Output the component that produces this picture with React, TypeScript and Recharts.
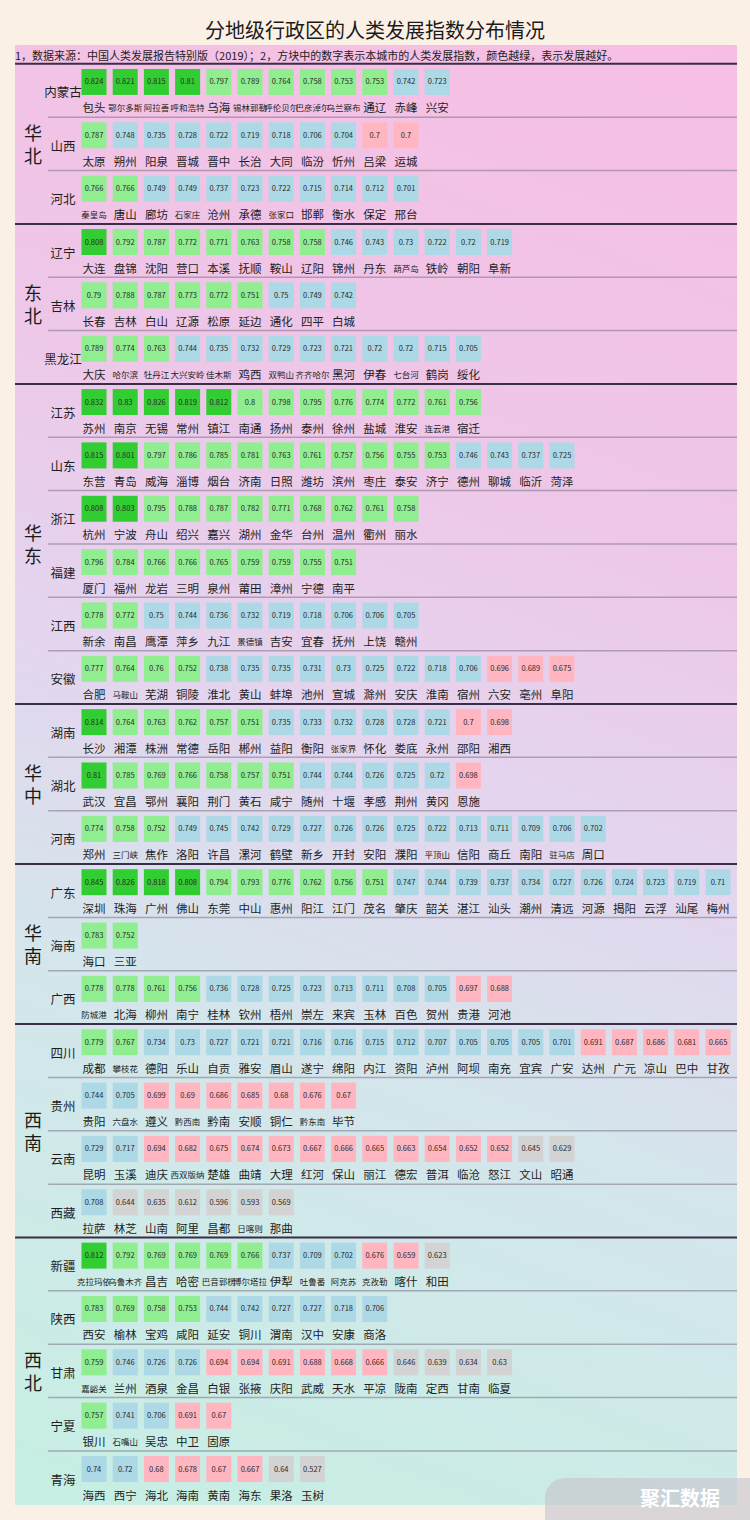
import React from 'react';
import { ScatterChart, Scatter, XAxis, YAxis, ReferenceLine } from 'recharts';

const regionNames = ['华北', '东北', '华东', '华中', '华南', '西南', '西北'];
const regionRowCounts = [3, 3, 6, 3, 3, 4, 5];

const provinceNames = [
  '内蒙古', '山西', '河北', '辽宁', '吉林', '黑龙江', '江苏', '山东', '浙江', '福建', '江西', '安徽',
  '湖南', '湖北', '河南', '广东', '海南', '广西', '四川', '贵州', '云南', '西藏', '新疆', '陕西',
  '甘肃', '宁夏', '青海',
];

const cityNames: string[][] = [
  ['包头', '鄂尔多斯', '阿拉善', '呼和浩特', '乌海', '锡林郭勒', '呼伦贝尔', '巴彦淖尔', '乌兰察布', '通辽', '赤峰', '兴安'],
  ['太原', '朔州', '阳泉', '晋城', '晋中', '长治', '大同', '临汾', '忻州', '吕梁', '运城'],
  ['秦皇岛', '唐山', '廊坊', '石家庄', '沧州', '承德', '张家口', '邯郸', '衡水', '保定', '邢台'],
  ['大连', '盘锦', '沈阳', '营口', '本溪', '抚顺', '鞍山', '辽阳', '锦州', '丹东', '葫芦岛', '铁岭', '朝阳', '阜新'],
  ['长春', '吉林', '白山', '辽源', '松原', '延边', '通化', '四平', '白城'],
  ['大庆', '哈尔滨', '牡丹江', '大兴安岭', '佳木斯', '鸡西', '双鸭山', '齐齐哈尔', '黑河', '伊春', '七台河', '鹤岗', '绥化'],
  ['苏州', '南京', '无锡', '常州', '镇江', '南通', '扬州', '泰州', '徐州', '盐城', '淮安', '连云港', '宿迁'],
  ['东营', '青岛', '威海', '淄博', '烟台', '济南', '日照', '潍坊', '滨州', '枣庄', '泰安', '济宁', '德州', '聊城', '临沂', '菏泽'],
  ['杭州', '宁波', '舟山', '绍兴', '嘉兴', '湖州', '金华', '台州', '温州', '衢州', '丽水'],
  ['厦门', '福州', '龙岩', '三明', '泉州', '莆田', '漳州', '宁德', '南平'],
  ['新余', '南昌', '鹰潭', '萍乡', '九江', '景德镇', '吉安', '宜春', '抚州', '上饶', '赣州'],
  ['合肥', '马鞍山', '芜湖', '铜陵', '淮北', '黄山', '蚌埠', '池州', '宣城', '滁州', '安庆', '淮南', '宿州', '六安', '亳州', '阜阳'],
  ['长沙', '湘潭', '株洲', '常德', '岳阳', '郴州', '益阳', '衡阳', '张家界', '怀化', '娄底', '永州', '邵阳', '湘西'],
  ['武汉', '宜昌', '鄂州', '襄阳', '荆门', '黄石', '咸宁', '随州', '十堰', '孝感', '荆州', '黄冈', '恩施'],
  ['郑州', '三门峡', '焦作', '洛阳', '许昌', '漯河', '鹤壁', '新乡', '开封', '安阳', '濮阳', '平顶山', '信阳', '商丘', '南阳', '驻马店', '周口'],
  ['深圳', '珠海', '广州', '佛山', '东莞', '中山', '惠州', '阳江', '江门', '茂名', '肇庆', '韶关', '湛江', '汕头', '潮州', '清远', '河源', '揭阳', '云浮', '汕尾', '梅州'],
  ['海口', '三亚'],
  ['防城港', '北海', '柳州', '南宁', '桂林', '钦州', '梧州', '崇左', '来宾', '玉林', '百色', '贺州', '贵港', '河池'],
  ['成都', '攀枝花', '德阳', '乐山', '自贡', '雅安', '眉山', '遂宁', '绵阳', '内江', '资阳', '泸州', '阿坝', '南充', '宜宾', '广安', '达州', '广元', '凉山', '巴中', '甘孜'],
  ['贵阳', '六盘水', '遵义', '黔西南', '黔南', '安顺', '铜仁', '黔东南', '毕节'],
  ['昆明', '玉溪', '迪庆', '西双版纳', '楚雄', '曲靖', '大理', '红河', '保山', '丽江', '德宏', '普洱', '临沧', '怒江', '文山', '昭通'],
  ['拉萨', '林芝', '山南', '阿里', '昌都', '日喀则', '那曲'],
  ['克拉玛依', '乌鲁木齐', '昌吉', '哈密', '巴音郭楞', '博尔塔拉', '伊犁', '吐鲁番', '阿克苏', '克孜勒', '喀什', '和田'],
  ['西安', '榆林', '宝鸡', '咸阳', '延安', '铜川', '渭南', '汉中', '安康', '商洛'],
  ['嘉峪关', '兰州', '酒泉', '金昌', '白银', '张掖', '庆阳', '武威', '天水', '平凉', '陇南', '定西', '甘南', '临夏'],
  ['银川', '石嘴山', '吴忠', '中卫', '固原'],
  ['海西', '西宁', '海北', '海南', '黄南', '海东', '果洛', '玉树'],
];

const cityValues: number[][] = [
  [0.824, 0.821, 0.815, 0.81, 0.797, 0.789, 0.764, 0.758, 0.753, 0.753, 0.742, 0.723],
  [0.787, 0.748, 0.735, 0.728, 0.722, 0.719, 0.718, 0.706, 0.704, 0.7, 0.7],
  [0.766, 0.766, 0.749, 0.749, 0.737, 0.723, 0.722, 0.715, 0.714, 0.712, 0.701],
  [0.808, 0.792, 0.787, 0.772, 0.771, 0.763, 0.758, 0.758, 0.746, 0.743, 0.73, 0.722, 0.72, 0.719],
  [0.79, 0.788, 0.787, 0.773, 0.772, 0.751, 0.75, 0.749, 0.742],
  [0.789, 0.774, 0.763, 0.744, 0.735, 0.732, 0.729, 0.723, 0.721, 0.72, 0.72, 0.715, 0.705],
  [0.832, 0.83, 0.826, 0.819, 0.812, 0.8, 0.798, 0.795, 0.776, 0.774, 0.772, 0.761, 0.756],
  [0.815, 0.801, 0.797, 0.786, 0.785, 0.781, 0.763, 0.761, 0.757, 0.756, 0.755, 0.753, 0.746, 0.743, 0.737, 0.725],
  [0.808, 0.803, 0.795, 0.788, 0.787, 0.782, 0.771, 0.768, 0.762, 0.761, 0.758],
  [0.796, 0.784, 0.766, 0.766, 0.765, 0.759, 0.759, 0.755, 0.751],
  [0.778, 0.772, 0.75, 0.744, 0.736, 0.732, 0.719, 0.718, 0.706, 0.706, 0.705],
  [0.777, 0.764, 0.76, 0.752, 0.738, 0.735, 0.735, 0.731, 0.73, 0.725, 0.722, 0.718, 0.706, 0.696, 0.689, 0.675],
  [0.814, 0.764, 0.763, 0.762, 0.757, 0.751, 0.735, 0.733, 0.732, 0.728, 0.728, 0.721, 0.7, 0.698],
  [0.81, 0.785, 0.769, 0.766, 0.758, 0.757, 0.751, 0.744, 0.744, 0.726, 0.725, 0.72, 0.698],
  [0.774, 0.758, 0.752, 0.749, 0.745, 0.742, 0.729, 0.727, 0.726, 0.726, 0.725, 0.722, 0.713, 0.711, 0.709, 0.706, 0.702],
  [0.845, 0.826, 0.818, 0.808, 0.794, 0.793, 0.776, 0.762, 0.756, 0.751, 0.747, 0.744, 0.739, 0.737, 0.734, 0.727, 0.726, 0.724, 0.723, 0.719, 0.71],
  [0.783, 0.752],
  [0.778, 0.778, 0.761, 0.756, 0.736, 0.728, 0.725, 0.723, 0.713, 0.711, 0.708, 0.705, 0.697, 0.688],
  [0.779, 0.767, 0.734, 0.73, 0.727, 0.721, 0.721, 0.716, 0.716, 0.715, 0.712, 0.707, 0.705, 0.705, 0.705, 0.701, 0.691, 0.687, 0.686, 0.681, 0.665],
  [0.744, 0.705, 0.699, 0.69, 0.686, 0.685, 0.68, 0.676, 0.67],
  [0.729, 0.717, 0.694, 0.682, 0.675, 0.674, 0.673, 0.667, 0.666, 0.665, 0.663, 0.654, 0.652, 0.652, 0.645, 0.629],
  [0.708, 0.644, 0.635, 0.612, 0.596, 0.593, 0.569],
  [0.812, 0.792, 0.769, 0.769, 0.769, 0.766, 0.737, 0.709, 0.702, 0.676, 0.659, 0.623],
  [0.783, 0.769, 0.758, 0.753, 0.744, 0.742, 0.727, 0.727, 0.718, 0.706],
  [0.759, 0.746, 0.726, 0.726, 0.694, 0.694, 0.691, 0.688, 0.668, 0.666, 0.646, 0.639, 0.634, 0.63],
  [0.757, 0.741, 0.706, 0.691, 0.67],
  [0.74, 0.72, 0.68, 0.678, 0.67, 0.667, 0.64, 0.527],
];

const FONT = "'Noto Sans CJK SC', 'Noto Sans', sans-serif";
// columns sit 31.2px apart, first at x=94; rows 53.35px apart, first at y=82
const MARGIN = { top: 55.3, right: 16.4, bottom: 24.3, left: 0 };
const Y_AXIS_W = 78.4;
const ROW_COUNT = provinceNames.length;
const ROW_STEP = (1520 - MARGIN.top - MARGIN.bottom) / ROW_COUNT;
const rowY = (r: number) => MARGIN.top + (r + 0.5) * ROW_STEP;

function cellColor(v: number) {
  if (v > 0.8) return '#32CD32';
  if (v > 0.75) return '#90EE90';
  if (v > 0.7) return '#ADD8E6';
  if (v > 0.65) return '#FFB6C1';
  return '#D3D3D3';
}

const cells = cityNames.flatMap((names, row) =>
  names.map((name, col) => ({ x: col, y: row, v: cityValues[row][col], name })),
);

const regionStarts = regionRowCounts.map((_, i) => regionRowCounts.slice(0, i).reduce((a, b) => a + b, 0));

const CellShape = (props: any) => {
  const { cx, cy, payload } = props;
  const long = payload.name.length > 2;
  return (
    <g>
      <rect x={cx - 12.5} y={cy - 13} width={25} height={26} fill={cellColor(payload.v)} />
      <text x={cx} y={cy - 1} textAnchor="middle" dominantBaseline="central" fontSize={7.5} fill="#2a2a2a" fontFamily={FONT}>
        {String(payload.v)}
      </text>
      <text x={cx} y={cy + 25.5} textAnchor="middle" dominantBaseline="central" fontSize={long ? 8.5 : 11.5} fill="#1e1e1e" fontFamily={FONT}>
        {payload.name}
      </text>
    </g>
  );
};

const ProvinceTick = (props: any) => {
  const { y, payload } = props;
  return (
    <text x={63} y={y + 10} textAnchor="middle" dominantBaseline="central" fontSize={12.5} fill="#1e1e1e" fontFamily={FONT}>
      {provinceNames[payload.value]}
    </text>
  );
};

export default function App() {
  const lines = provinceNames.map((_, r) => ({ r, thick: regionStarts.includes(r) }));

  return (
    <div style={{ position: 'absolute', left: 0, top: 0, width: 750, height: 1520, background: '#FBF0E6', fontFamily: FONT, overflow: 'hidden' }}>
      <div
        style={{
          position: 'absolute', left: 15, top: 45, width: 722, height: 1460,
          background: 'linear-gradient(200deg, #F7BEE3 0%, #EEC7E8 30%, #E3D6EE 50%, #D5E5EC 66%, #C6EFE3 100%)',
        }}
      />
      <div style={{ position: 'absolute', left: 0, top: 17, width: 750, textAlign: 'center', fontSize: 20, lineHeight: '26px', color: '#1a1a1a' }}>
        分地级行政区的人类发展指数分布情况
      </div>
      <div style={{ position: 'absolute', left: 15, top: 48, fontSize: 11, lineHeight: '14px', color: '#222', whiteSpace: 'nowrap' }}>
        1，数据来源：中国人类发展报告特别版（2019）；2，方块中的数字表示本城市的人类发展指数，颜色越绿，表示发展越好。
      </div>
      {regionNames.map((name, k) => {
        const s = regionStarts[k];
        const e = s + regionRowCounts[k];
        const top = rowY(s) - 18;
        const bottom = k === regionNames.length - 1 ? 1505 : rowY(e) - 18;
        const center = (top + bottom) / 2;
        return (
          <div key={name} style={{ position: 'absolute', left: 22, top: center - 23, width: 22, fontSize: 18, lineHeight: '23px', textAlign: 'center', color: '#1a1a1a' }}>
            {name[0]}<br />{name[1]}
          </div>
        );
      })}
      <div style={{ position: 'absolute', left: 0, top: 0 }}>
        <ScatterChart width={750} height={1520} margin={MARGIN} style={{ fontFamily: FONT }}>
          <XAxis type="number" dataKey="x" domain={[-0.5, 20.5]} hide />
          <YAxis
            type="number"
            dataKey="y"
            domain={[-0.5, ROW_COUNT - 0.5]}
            reversed
            width={Y_AXIS_W}
            ticks={provinceNames.map((_, i) => i)}
            interval={0}
            axisLine={false}
            tickLine={false}
            tick={<ProvinceTick />}
          />
          {lines.map(({ r, thick }) => (
            <ReferenceLine
              key={r}
              ifOverflow="visible"
              segment={[{ x: thick ? -2.53 : -1.47, y: r - 0.34 }, { x: 20.61, y: r - 0.34 }]}
              stroke={thick ? '#3a2d48' : 'rgba(125,115,135,0.55)'}
              strokeWidth={thick ? 2 : 1.5}
            />
          ))}
          <Scatter data={cells} shape={<CellShape />} isAnimationActive={false} />
        </ScatterChart>
      </div>
      <div style={{ position: 'absolute', left: 545, top: 1478, width: 205, height: 42, background: 'rgba(200,198,206,0.65)', borderTopLeftRadius: 20 }} />
      <div style={{ position: 'absolute', left: 640, top: 1485, fontSize: 20, lineHeight: '26px', color: '#ffffff', fontWeight: 700 }}>
        聚汇数据
      </div>
    </div>
  );
}
